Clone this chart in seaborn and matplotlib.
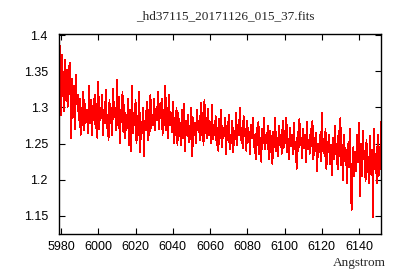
import numpy as np
import pandas as pd
import matplotlib
matplotlib.use('Agg')
import matplotlib.pyplot as plt
import seaborn as sns

# ========== Data (0.5 A sampling) ==========

wave_start = 5979.0
wave_step = 0.5

flux = [
    1.300, 1.385, 1.290, 1.372, 1.338, 1.295, 1.366, 1.310, 1.352, 1.300,
    1.358, 1.318, 1.362, 1.258, 1.340, 1.286, 1.330, 1.270, 1.345, 1.305,
    1.318, 1.282, 1.312, 1.262, 1.300, 1.275, 1.322, 1.268, 1.305, 1.280,
    1.296, 1.265, 1.330, 1.278, 1.310, 1.262, 1.302, 1.282, 1.318, 1.272,
    1.305, 1.258, 1.336, 1.270, 1.300, 1.285, 1.318, 1.262, 1.296, 1.278,
    1.324, 1.272, 1.290, 1.255, 1.310, 1.278, 1.300, 1.262, 1.325, 1.286,
    1.300, 1.268, 1.338, 1.276, 1.315, 1.250, 1.296, 1.280, 1.322, 1.266,
    1.304, 1.258, 1.290, 1.272, 1.312, 1.248, 1.296, 1.239, 1.330, 1.265,
    1.292, 1.275, 1.310, 1.250, 1.288, 1.262, 1.322, 1.238, 1.280, 1.265,
    1.300, 1.232, 1.282, 1.270, 1.308, 1.255, 1.296, 1.262, 1.318, 1.272,
    1.290, 1.275, 1.312, 1.268, 1.298, 1.282, 1.322, 1.270, 1.305, 1.285,
    1.312, 1.262, 1.296, 1.276, 1.330, 1.268, 1.300, 1.258, 1.318, 1.275,
    1.292, 1.266, 1.308, 1.250, 1.285, 1.262, 1.300, 1.248, 1.292, 1.260,
    1.278, 1.248, 1.296, 1.258, 1.305, 1.240, 1.282, 1.262, 1.290, 1.252,
    1.275, 1.256, 1.300, 1.232, 1.286, 1.262, 1.278, 1.250, 1.296, 1.268,
    1.282, 1.255, 1.306, 1.262, 1.292, 1.248, 1.310, 1.265, 1.285, 1.258,
    1.298, 1.262, 1.280, 1.250, 1.304, 1.256, 1.276, 1.262, 1.288, 1.248,
    1.272, 1.240, 1.284, 1.258, 1.296, 1.245, 1.270, 1.262, 1.286, 1.236,
    1.275, 1.255, 1.290, 1.242, 1.262, 1.250, 1.282, 1.238, 1.268, 1.256,
    1.292, 1.248, 1.276, 1.262, 1.300, 1.255, 1.272, 1.244, 1.288, 1.260,
    1.270, 1.240, 1.282, 1.252, 1.266, 1.236, 1.276, 1.258, 1.286, 1.245,
    1.262, 1.228, 1.272, 1.248, 1.280, 1.235, 1.258, 1.225, 1.270, 1.250,
    1.286, 1.242, 1.262, 1.250, 1.275, 1.228, 1.268, 1.238, 1.260, 1.222,
    1.266, 1.245, 1.285, 1.240, 1.258, 1.232, 1.275, 1.248, 1.262, 1.236,
    1.282, 1.244, 1.268, 1.250, 1.286, 1.238, 1.256, 1.228, 1.272, 1.246,
    1.262, 1.235, 1.278, 1.242, 1.252, 1.215, 1.266, 1.240, 1.284, 1.248,
    1.258, 1.230, 1.270, 1.244, 1.262, 1.224, 1.280, 1.242, 1.255, 1.236,
    1.270, 1.246, 1.282, 1.228, 1.258, 1.240, 1.265, 1.212, 1.250, 1.238,
    1.262, 1.226, 1.292, 1.240, 1.256, 1.232, 1.270, 1.215, 1.252, 1.238,
    1.262, 1.222, 1.248, 1.206, 1.258, 1.228, 1.275, 1.236, 1.250, 1.214,
    1.268, 1.232, 1.285, 1.220, 1.248, 1.200, 1.262, 1.226, 1.242, 1.195,
    1.250, 1.218, 1.270, 1.208, 1.158, 1.230, 1.245, 1.205, 1.238, 1.212,
    1.262, 1.225, 1.278, 1.178, 1.250, 1.205, 1.268, 1.228, 1.240, 1.198,
    1.255, 1.210, 1.232, 1.195, 1.260, 1.208, 1.242, 1.148, 1.270, 1.215,
    1.236, 1.195, 1.262, 1.205, 1.245, 1.215, 1.280,
]

x_ticks = [5980, 6000, 6020, 6040, 6060, 6080, 6100, 6120, 6140]
y_ticks = [1.15, 1.2, 1.25, 1.3, 1.35, 1.4]
y_tick_labels = ['1.15', '1.2', '1.25', '1.3', '1.35', '1.4']
titolo = '_hd37115_20171126_015_37.fits'
etichetta_x = 'Angstrom'


def main():
    wave = wave_start + wave_step * np.arange(len(flux))
    df = pd.DataFrame({'Angstrom': wave, 'Flux': flux})

    sns.set_style('ticks')
    plt.rcParams['font.family'] = ['Liberation Sans', 'DejaVu Sans']

    fig = plt.figure(figsize=(4, 2.8), dpi=100)
    ax = fig.add_axes([59 / 400, 1 - 234 / 280, 322 / 400, 200 / 280])

    sns.lineplot(data=df, x='Angstrom', y='Flux', color='#ff0000',
                 linewidth=0.6, ax=ax, estimator=None, antialiased=False)

    ax.set_xlim(5978.9, 6151.8)
    ax.set_ylim(1.125, 1.4015)
    ax.set_xticks(x_ticks)
    ax.set_yticks(y_ticks)
    ax.set_yticklabels(y_tick_labels)
    ax.tick_params(direction='in', length=4, width=0.8, top=True, right=True,
                   labelsize=9, colors='black')
    ax.tick_params(axis='x', pad=5)
    ax.tick_params(axis='y', pad=8)
    for sp in ax.spines.values():
        sp.set_linewidth(1.0)
        sp.set_color('black')
    ax.set_xlabel('')
    ax.set_ylabel('')

    fig.text(225 / 400, 1 - 16 / 280, titolo, ha='center', va='center',
             family='Liberation Serif', fontsize=9.5)
    fig.text(386 / 400, 1 - 263 / 280, etichetta_x, ha='right', va='center',
             family='Liberation Serif', fontsize=9.5)

    fig.savefig('out.png', dpi=100)
    plt.close(fig)


if __name__ == "__main__":
    main()
